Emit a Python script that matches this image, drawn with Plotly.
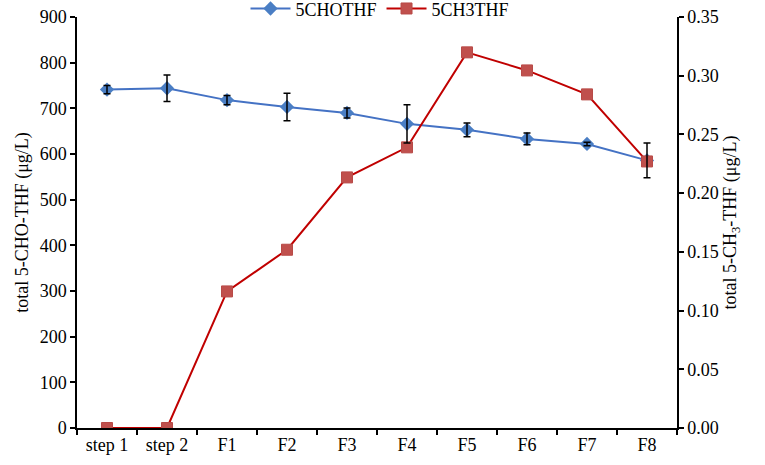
import plotly.graph_objects as go

categories = ["step 1", "step 2", "F1", "F2", "F3", "F4", "F5", "F6", "F7", "F8"]
cho_values = [741, 744, 718, 703, 690, 666, 653, 633, 622, 586]
cho_errors = [9, 29, 10, 30, 11, 42, 15, 13, 4, 38]
ch3_values = [0.0, 0.0, 0.1163, 0.1518, 0.2134, 0.239, 0.3199, 0.3045, 0.2841, 0.227]
left_ticks = [0, 100, 200, 300, 400, 500, 600, 700, 800, 900]
right_ticks = [0.0, 0.05, 0.10, 0.15, 0.20, 0.25, 0.30, 0.35]

FONT = "Liberation Serif, Times New Roman, serif"
FS = 18

fig = go.Figure()
fig.add_trace(go.Scatter(
    x=categories, y=cho_values, name="5CHOTHF", mode="lines+markers",
    line=dict(color="#4472C4", width=2),
    marker=dict(symbol="diamond", size=11, color="#4A7EC4"),
    yaxis="y",
))
fig.add_trace(go.Scatter(
    x=categories, y=ch3_values, name="5CH3THF", mode="lines+markers",
    line=dict(color="#C00000", width=2),
    marker=dict(symbol="square", size=11, color="#C0504D",
                line=dict(color="#B84A47", width=1)),
    yaxis="y2",
))
# error bars drawn on top of everything
fig.add_trace(go.Scatter(
    x=categories, y=cho_values, mode="markers", showlegend=False,
    marker=dict(size=1, color="rgba(0,0,0,0)"),
    error_y=dict(type="data", array=cho_errors, visible=True,
                 color="black", thickness=1.5, width=3.5),
    yaxis="y3", hoverinfo="skip",
))

fig.update_layout(
    width=765, height=465,
    margin=dict(l=77, r=88, t=17, b=37, autoexpand=False),
    paper_bgcolor="white", plot_bgcolor="white",
    font=dict(family=FONT, size=FS, color="black"),
    showlegend=True,
    legend=dict(orientation="h", x=0.505, xanchor="center", y=1.02, yanchor="middle",
                font=dict(family=FONT, size=FS), bgcolor="rgba(0,0,0,0)",
                itemwidth=40, tracegroupgap=0),
    xaxis=dict(type="category", range=[-0.5, 9.5], showline=True, linecolor="black",
               linewidth=1.5, ticks="outside", tickson="boundaries", ticklen=5,
               tickcolor="black", tickwidth=1.5, showgrid=False, zeroline=False,
               tickfont=dict(family=FONT, size=FS)),
    yaxis=dict(range=[0, 900], tickvals=left_ticks, showline=True, linecolor="black",
               linewidth=1.5, ticks="outside", ticklen=5, tickcolor="black",
               tickwidth=1.5, showgrid=False, zeroline=False, ticklabeloverflow="allow",
               title=dict(text="total 5-CHO-THF (μg/L)", font=dict(family=FONT, size=FS), standoff=6),
               tickfont=dict(family=FONT, size=FS)),
    yaxis2=dict(range=[0, 0.35], tickvals=right_ticks, tickformat=".2f", overlaying="y",
                side="right", showline=True, linecolor="black", linewidth=1.5,
                ticks="outside", ticklen=5, tickcolor="black", tickwidth=1.5,
                showgrid=False, zeroline=False, ticklabeloverflow="allow",
                title=dict(text="total 5-CH<sub>3</sub>-THF (μg/L)", font=dict(family=FONT, size=FS), standoff=6),
                tickfont=dict(family=FONT, size=FS)),
    yaxis3=dict(range=[0, 900], overlaying="y", visible=False),
)

fig.write_html("out.html", config={"displayModeBar": False},
               post_script="document.body.style.margin='0';")
